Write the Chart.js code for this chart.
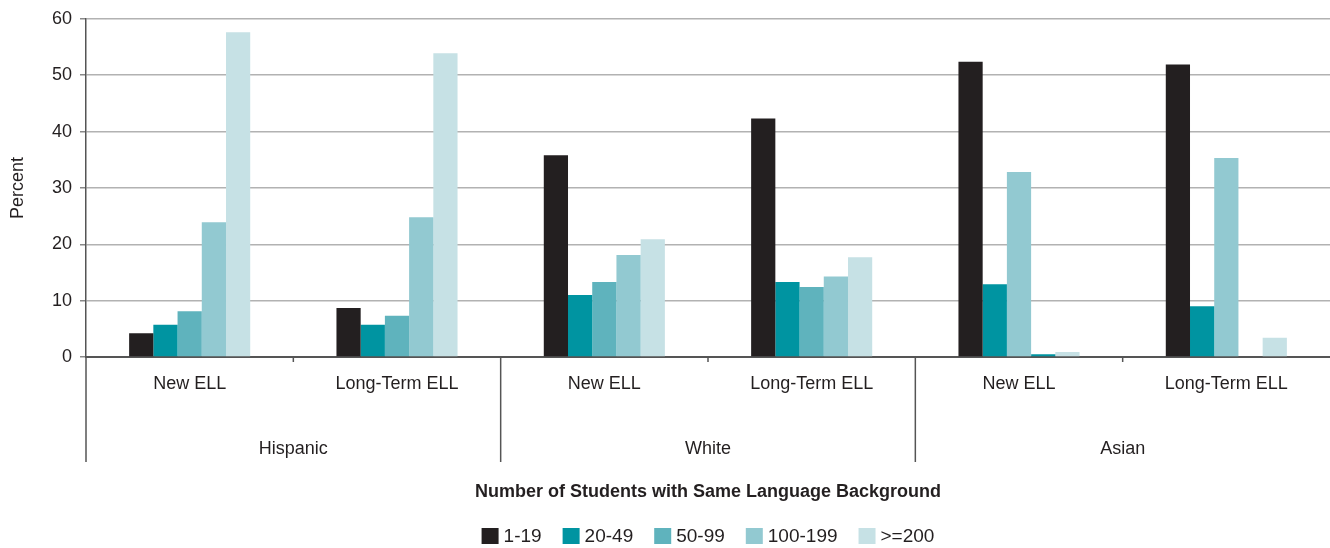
<!DOCTYPE html>
<html>
<head>
<meta charset="utf-8">
<script src="https://cdn.jsdelivr.net/npm/chart.js@4.4.1/dist/chart.umd.min.js"></script>
<style>
  html, body { margin: 0; padding: 0; background: #ffffff; }
  #wrap { width: 1330px; height: 548px; position: relative; }
</style>
</head>
<body>
<div id="wrap"><canvas id="c"></canvas></div>
<script>
// ---- Data ----
const categories = ['New ELL', 'Long-Term ELL', 'New ELL', 'Long-Term ELL', 'New ELL', 'Long-Term ELL'];
const groups = ['Hispanic', 'White', 'Asian'];
const seriesNames = ['1-19', '20-49', '50-99', '100-199', '>=200'];
const s1to19    = [4.2, 8.7, 35.8, 42.3, 52.4, 51.9];
const s20to49   = [5.7, 5.7, 11.0, 13.3, 12.9, 9.0];
const s50to99   = [8.1, 7.3, 13.3, 12.4, 32.8, 35.3];
const s100to199 = [23.9, 24.8, 18.1, 14.3, 0.5, 0];
const s200plus  = [57.6, 53.9, 20.9, 17.7, 0.9, 3.4];
const yTicks = [0, 10, 20, 30, 40, 50, 60];
const yTitle = 'Percent';
const legendTitle = 'Number of Students with Same Language Background';

// ---- Styles ----
const C1 = '#231f20', C2 = '#0094a1', C3 = '#5fb3bd', C4 = '#92c9d1', C5 = '#c6e1e5';
const textColor = '#231f20';
const FONT = '"Liberation Sans", Arial, Helvetica, sans-serif';

// The original chart colours the Asian bars of the 3rd/4th slot differently
const colors3 = [C3, C3, C3, C3, C4, C4];
const colors4 = [C4, C4, C4, C4, C2, C2];

const datasets = [
  { label: seriesNames[0], data: s1to19,    backgroundColor: C1, legendColor: C1 },
  { label: seriesNames[1], data: s20to49,   backgroundColor: C2, legendColor: C2 },
  { label: seriesNames[2], data: s50to99,   backgroundColor: colors3, legendColor: C3 },
  { label: seriesNames[3], data: s100to199, backgroundColor: colors4, legendColor: C4 },
  { label: seriesNames[4], data: s200plus,  backgroundColor: C5, legendColor: C5 }
].map(d => Object.assign(d, { borderWidth: 0, categoryPercentage: 0.584, barPercentage: 1.0 }));

const groupPlugin = {
  id: 'groupAxis',
  afterDraw(chart) {
    const ctx = chart.ctx;
    const x = chart.scales.x;
    const area = chart.chartArea;
    const n = categories.length;
    const catW = (x.right - x.left) / n;
    ctx.save();
    ctx.strokeStyle = '#555555';
    ctx.lineWidth = 1.5;
    for (let g = 0; g < groups.length; g++) {
      const start = x.getPixelForValue(2 * g) - catW / 2;
      const mid = (x.getPixelForValue(2 * g) + x.getPixelForValue(2 * g + 1)) / 2;
      ctx.beginPath();
      ctx.moveTo(start, area.bottom);
      ctx.lineTo(start, area.bottom + 105);
      ctx.stroke();
      ctx.beginPath();
      ctx.moveTo(mid, area.bottom);
      ctx.lineTo(mid, area.bottom + 5);
      ctx.stroke();
      ctx.fillStyle = textColor;
      ctx.font = '18px ' + FONT;
      ctx.textAlign = 'center';
      ctx.textBaseline = 'middle';
      ctx.fillText(groups[g], mid, area.bottom + 92);
    }
    // legend
    const cx = (area.left + area.right) / 2;
    ctx.fillStyle = textColor;
    ctx.font = 'bold 18px ' + FONT;
    ctx.textAlign = 'center';
    ctx.textBaseline = 'middle';
    ctx.fillText(legendTitle, cx, 492);
    ctx.font = '19px ' + FONT;
    const boxW = 17, boxH = 16, gap = 5, spacing = 21;
    const items = chart.data.datasets.map(d => ({ text: d.label, color: d.legendColor, w: ctx.measureText(d.label).width }));
    let total = items.reduce((s, it) => s + boxW + gap + it.w, 0) + spacing * (items.length - 1);
    let lx = cx - total / 2;
    const ly = 536;
    ctx.textAlign = 'left';
    items.forEach(it => {
      ctx.fillStyle = it.color;
      ctx.fillRect(lx, ly - boxH / 2, boxW, boxH);
      ctx.fillStyle = textColor;
      ctx.fillText(it.text, lx + boxW + gap, ly + 1);
      lx += boxW + gap + it.w + spacing;
    });
    ctx.restore();
  }
};

new Chart(document.getElementById('c'), {
  type: 'bar',
  data: { labels: categories, datasets: datasets },
  plugins: [groupPlugin],
  options: {
    responsive: true,
    maintainAspectRatio: false,
    animation: false,
    layout: { padding: { top: 18, right: 0, bottom: 0, left: 0 } },
    plugins: { legend: { display: false }, tooltip: { enabled: false } },
    scales: {
      x: {
        grid: { display: false, drawTicks: false },
        border: { display: true, color: '#555555', width: 2 },
        ticks: { color: textColor, font: { family: FONT, size: 18 }, padding: 16, maxRotation: 0, autoSkip: false },
        afterFit(s) { s.height = 191; }
      },
      y: {
        min: 0, max: 60,
        afterBuildTicks(s) { s.ticks = yTicks.map(v => ({ value: v })); },
        grid: { color: '#b2b2b2', lineWidth: 1.5, tickLength: 6, tickColor: '#888888' },
        border: { display: true, color: '#555555', width: 1.5 },
        ticks: { color: textColor, font: { family: FONT, size: 18 }, padding: 8 },
        title: { display: true, text: yTitle, color: textColor, font: { family: FONT, size: 18 }, padding: { top: 7, bottom: 0 } },
        afterFit(s) { s.width = 86; }
      }
    }
  }
});
</script>
</body>
</html>
